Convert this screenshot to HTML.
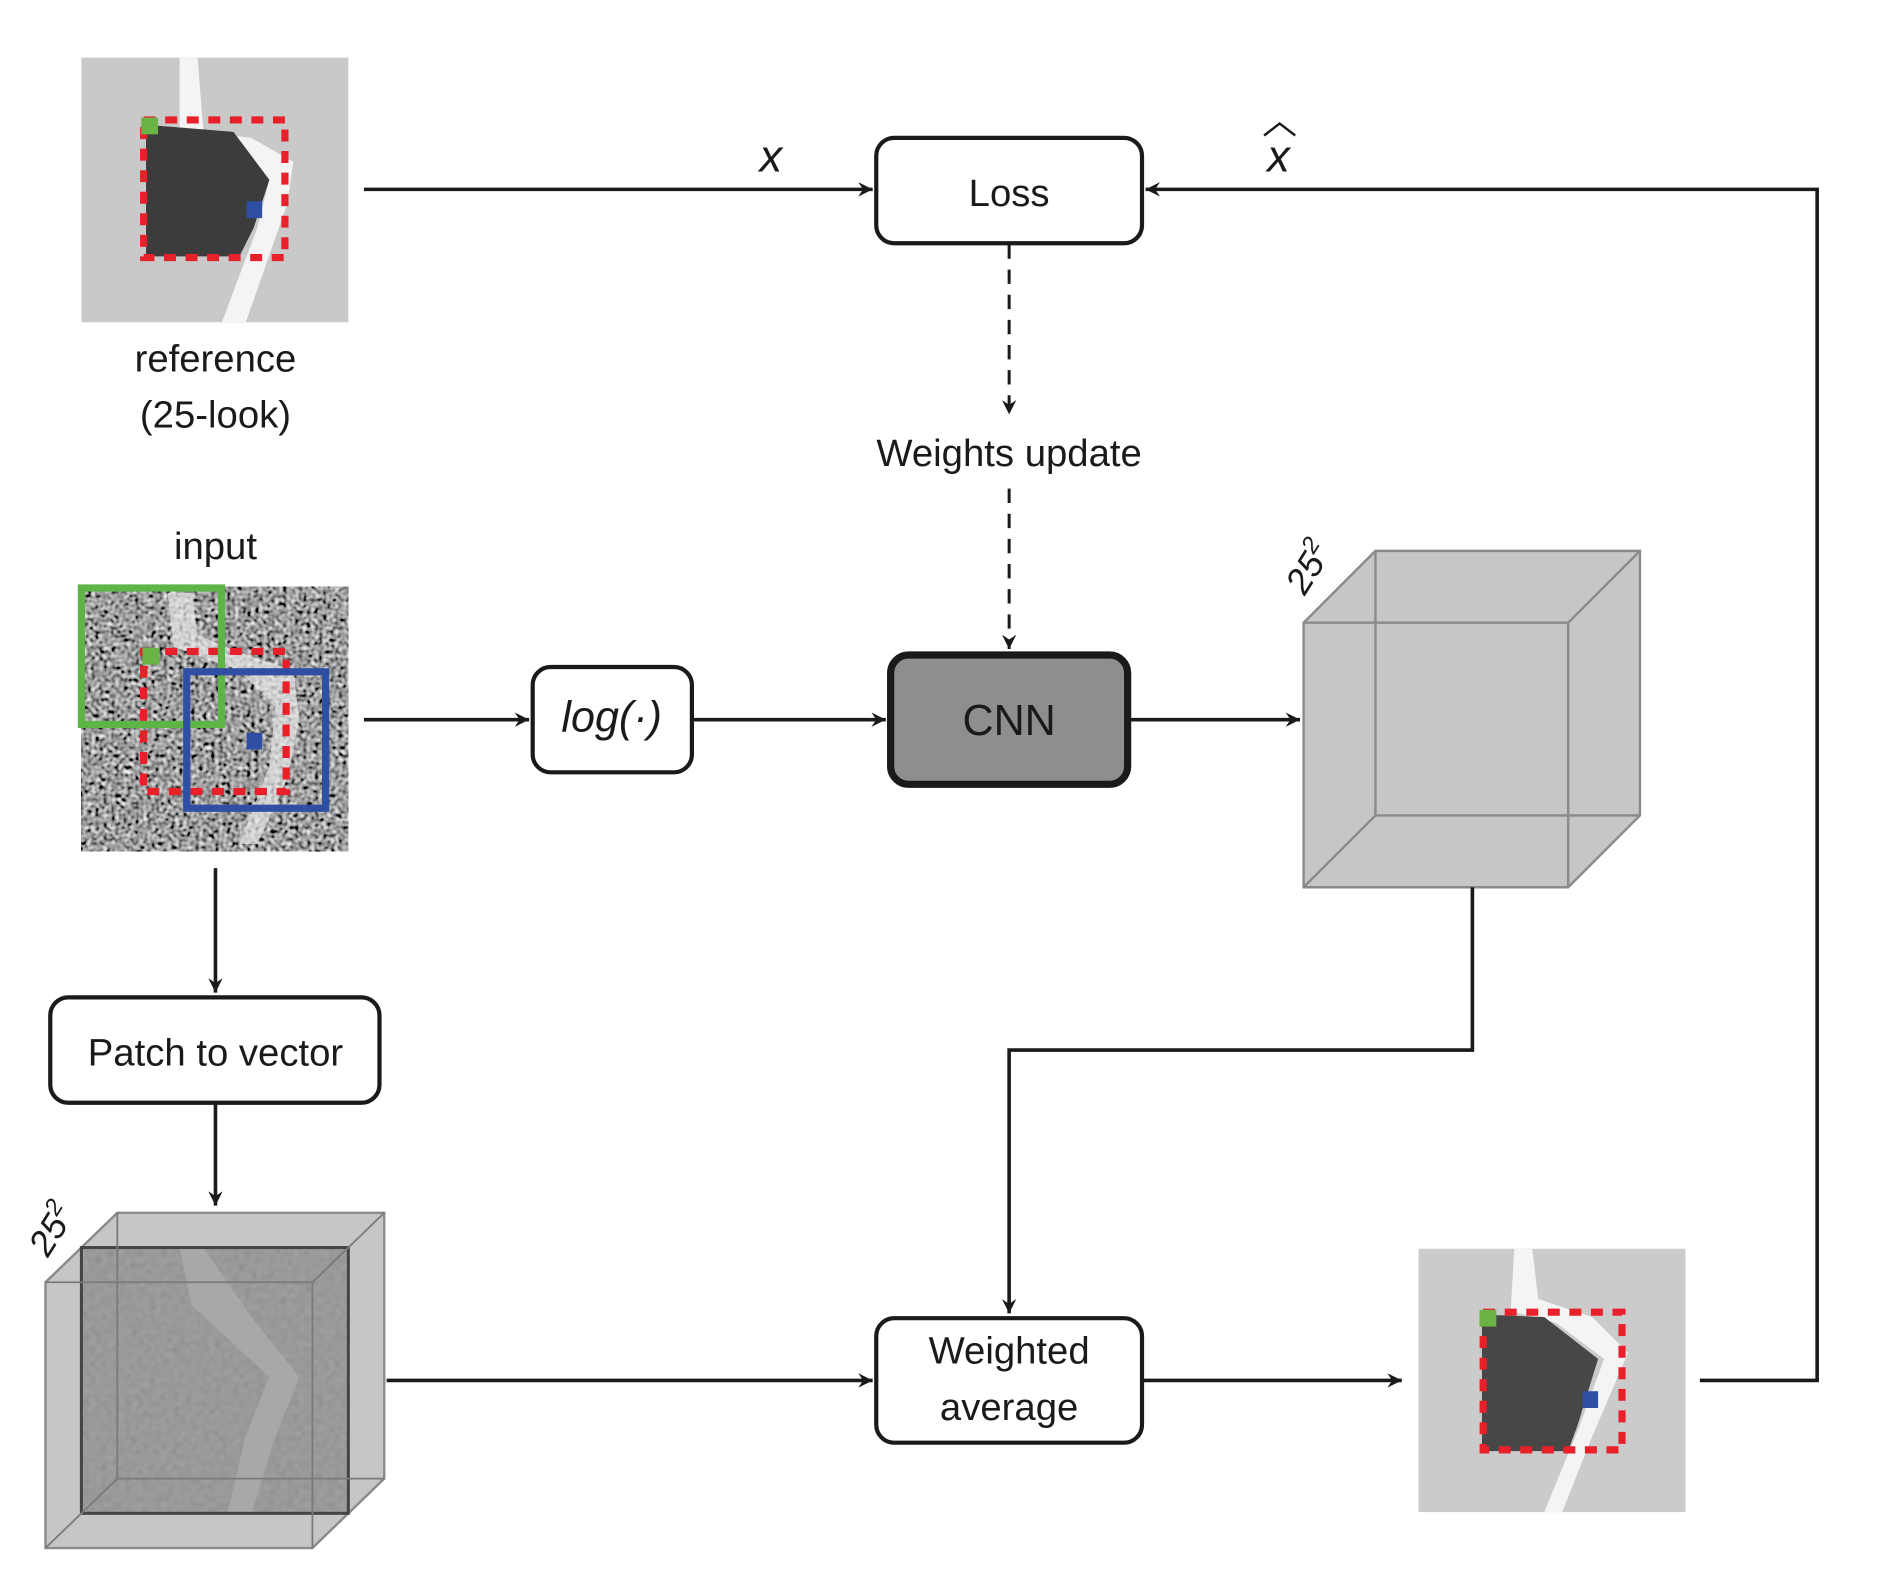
<!DOCTYPE html>
<html><head><meta charset="utf-8"><style>
html,body{margin:0;padding:0;background:#fff}
svg{display:block}
text{font-family:"Liberation Sans",sans-serif;fill:#1a1a1a}
</style></head><body>
<svg width="1877" height="1571" viewBox="0 0 1568 1312" xmlns="http://www.w3.org/2000/svg">
<defs>
<marker id="ar" markerWidth="14" markerHeight="12" refX="12" refY="6" orient="auto" markerUnits="userSpaceOnUse">
<path d="M0,0 L12,6 L0,12 L4,6 Z" fill="#1a1a1a"/></marker>
<filter id="noise" x="0" y="0" width="100%" height="100%">
<feTurbulence type="fractalNoise" baseFrequency="0.3" numOctaves="1" seed="3" result="t"/>
<feColorMatrix in="t" type="matrix" values="0.33 0.33 0.33 0 0  0.33 0.33 0.33 0 0  0.33 0.33 0.33 0 0  0 0 0 0 1"/>
<feComponentTransfer><feFuncR type="linear" slope="2.6" intercept="-0.95"/><feFuncG type="linear" slope="2.6" intercept="-0.95"/><feFuncB type="linear" slope="2.6" intercept="-0.95"/></feComponentTransfer>
</filter>
<filter id="noise2" x="0" y="0" width="100%" height="100%">
<feTurbulence type="fractalNoise" baseFrequency="0.2" numOctaves="1" seed="7" result="t"/>
<feColorMatrix in="t" type="matrix" values="0.33 0.33 0.33 0 0  0.33 0.33 0.33 0 0  0.33 0.33 0.33 0 0  0 0 0 0 0.25"/>
</filter>
</defs>

<!-- reference image -->
<rect x="68" y="48" width="223" height="221" fill="#c9c9c9"/>
<path d="M150,48 L165,48 L170,110 L210,115 L245,135 L240,170 L205,270 L185,270 L215,190 L225,150 L195,125 L150,110 Z" fill="#f4f4f4"/>
<path d="M122,104 L195,110 L225,150 L212,190 L200,214 L122,214 Z" fill="#3c3c3c"/>
<rect x="120" y="100" width="118" height="115" fill="none" stroke="#e8202a" stroke-width="6" stroke-dasharray="10,8"/>
<rect x="118" y="98" width="14" height="14" fill="#6bb344"/>
<rect x="206" y="168" width="13" height="14" fill="#2e4fa3"/>
<text x="180" y="310" font-size="32" text-anchor="middle">reference</text>
<text x="180" y="357" font-size="32" text-anchor="middle">(25-look)</text>

<!-- Loss -->
<line x1="304" y1="158" x2="729" y2="158" stroke="#1a1a1a" stroke-width="3" marker-end="url(#ar)"/>
<text x="644" y="143" font-size="38" font-style="italic" font-family="Liberation Serif" text-anchor="middle">x</text>
<text x="1068" y="143" font-size="38" font-style="italic" font-family="Liberation Serif" text-anchor="middle">x</text>
<path d="M1056,113 L1069,103 L1082,113" fill="none" stroke="#1a1a1a" stroke-width="2"/>
<rect x="732" y="115" width="222" height="88" rx="15" fill="#fff" stroke="#1a1a1a" stroke-width="3.5"/>
<text x="843" y="172" font-size="32" text-anchor="middle">Loss</text>
<polyline points="1420,1153 1518,1153 1518,158 957,158" fill="none" stroke="#1a1a1a" stroke-width="3" marker-end="url(#ar)"/>

<!-- dashed -->
<line x1="843" y1="204" x2="843" y2="346" stroke="#1a1a1a" stroke-width="2.5" stroke-dasharray="12,9" marker-end="url(#ar)"/>
<text x="843" y="389" font-size="32" text-anchor="middle">Weights update</text>
<line x1="843" y1="408" x2="843" y2="542" stroke="#1a1a1a" stroke-width="2.5" stroke-dasharray="12,9" marker-end="url(#ar)"/>

<!-- input -->
<text x="180" y="467" font-size="32" text-anchor="middle">input</text>
<rect x="68" y="490" width="223" height="221" fill="#555"/>
<rect x="68" y="490" width="223" height="221" filter="url(#noise)"/>
<path d="M140,495 L160,495 L165,530 L200,545 L245,560 L250,600 L240,650 L215,705 L200,705 L225,640 L230,590 L200,560 L145,540 Z" fill="#e8e8e8" opacity="0.7"/>
<rect x="120" y="544" width="119" height="117" fill="none" stroke="#e8202a" stroke-width="6" stroke-dasharray="10,8"/>
<rect x="68" y="491" width="117" height="114" fill="none" stroke="#5eb445" stroke-width="6"/>
<rect x="156" y="561" width="116" height="114" fill="none" stroke="#2e4fa3" stroke-width="6"/>
<rect x="119" y="541" width="14" height="14" fill="#6bb344"/>
<rect x="206" y="612" width="13" height="14" fill="#2e4fa3"/>

<!-- log / CNN -->
<line x1="304" y1="601" x2="442" y2="601" stroke="#1a1a1a" stroke-width="3" marker-end="url(#ar)"/>
<rect x="445" y="557" width="133" height="88" rx="15" fill="#fff" stroke="#1a1a1a" stroke-width="3.5"/>
<text x="511" y="611" font-size="36" font-style="italic" font-family="Liberation Serif" text-anchor="middle">log(·)</text>
<line x1="578" y1="601" x2="740" y2="601" stroke="#1a1a1a" stroke-width="3" marker-end="url(#ar)"/>
<rect x="744" y="547" width="198" height="108" rx="15" fill="#8e8e91" stroke="#1a1a1a" stroke-width="6"/>
<text x="843" y="614" font-size="36" text-anchor="middle">CNN</text>
<line x1="944" y1="601" x2="1086" y2="601" stroke="#1a1a1a" stroke-width="3" marker-end="url(#ar)"/>

<!-- right cube -->
<g stroke="#8a8a8a" stroke-width="2" fill="#c6c6c8">
<polygon points="1089,520 1149,460 1370,460 1370,681 1310,741 1089,741"/>
<line x1="1149" y1="460" x2="1149" y2="681"/><line x1="1149" y1="681" x2="1370" y2="681"/><line x1="1089" y1="741" x2="1149" y2="681"/>
<polyline points="1089,520 1310,520 1370,460" fill="none"/><line x1="1310" y1="520" x2="1310" y2="741"/>
</g>
<text x="0" y="0" font-size="30" font-style="italic" font-family="Liberation Serif" transform="translate(1090,498) rotate(-58)">25<tspan font-size="20" dy="-12">2</tspan></text>

<polyline points="1230,741 1230,877 843,877 843,1097" fill="none" stroke="#1a1a1a" stroke-width="3" marker-end="url(#ar)"/>

<!-- patch to vector -->
<line x1="180" y1="725" x2="180" y2="829" stroke="#1a1a1a" stroke-width="3" marker-end="url(#ar)"/>
<rect x="42" y="833" width="275" height="88" rx="15" fill="#fff" stroke="#1a1a1a" stroke-width="3.5"/>
<text x="180" y="890" font-size="32" text-anchor="middle">Patch to vector</text>
<line x1="180" y1="921" x2="180" y2="1007" stroke="#1a1a1a" stroke-width="3" marker-end="url(#ar)"/>

<!-- left cube -->
<g stroke="#8a8a8a" stroke-width="2" fill="#c6c6c8">
<polygon points="38,1071 98,1013 321,1013 321,1235 261,1293 38,1293"/>
</g>
<rect x="68" y="1042" width="223" height="222" fill="#8e8e8e"/>
<rect x="68" y="1042" width="223" height="222" filter="url(#noise2)"/>
<path d="M150,1042 L170,1042 L210,1100 L250,1150 L230,1200 L210,1264 L190,1264 L205,1200 L225,1150 L160,1090 Z" fill="#a8a8a8"/>
<rect x="68" y="1042" width="223" height="222" fill="none" stroke="#444" stroke-width="2.5"/>
<g stroke="#7a7a7a" stroke-width="1.5" fill="none">
<polyline points="38,1071 261,1071 321,1013"/><line x1="261" y1="1071" x2="261" y2="1293"/>
<line x1="98" y1="1013" x2="98" y2="1235"/><line x1="98" y1="1235" x2="321" y2="1235"/><line x1="38" y1="1293" x2="98" y2="1235"/>
</g>
<text x="0" y="0" font-size="30" font-style="italic" font-family="Liberation Serif" transform="translate(40,1051) rotate(-58)">25<tspan font-size="20" dy="-12">2</tspan></text>

<!-- weighted average -->
<line x1="323" y1="1153" x2="729" y2="1153" stroke="#1a1a1a" stroke-width="3" marker-end="url(#ar)"/>
<rect x="732" y="1101" width="222" height="104" rx="15" fill="#fff" stroke="#1a1a1a" stroke-width="3.5"/>
<text x="843" y="1139" font-size="32" text-anchor="middle">Weighted</text>
<text x="843" y="1186" font-size="32" text-anchor="middle">average</text>
<line x1="955" y1="1153" x2="1171" y2="1153" stroke="#1a1a1a" stroke-width="3" marker-end="url(#ar)"/>

<!-- output image -->
<rect x="1185" y="1043" width="223" height="220" fill="#cbcbcb"/>
<path d="M1265,1043 L1280,1043 L1285,1085 L1330,1100 L1360,1130 L1330,1200 L1305,1263 L1290,1263 L1320,1190 L1340,1135 L1300,1105 L1262,1095 Z" fill="#f4f4f4"/>
<path d="M1238,1098 L1290,1100 L1335,1135 L1318,1190 L1310,1212 L1238,1212 Z" fill="#474747"/>
<rect x="1239" y="1096" width="116" height="115" fill="none" stroke="#e8202a" stroke-width="6" stroke-dasharray="10,8"/>
<rect x="1236" y="1094" width="14" height="14" fill="#6bb344"/>
<rect x="1322" y="1162" width="13" height="14" fill="#2e4fa3"/>
</svg>
</body></html>
